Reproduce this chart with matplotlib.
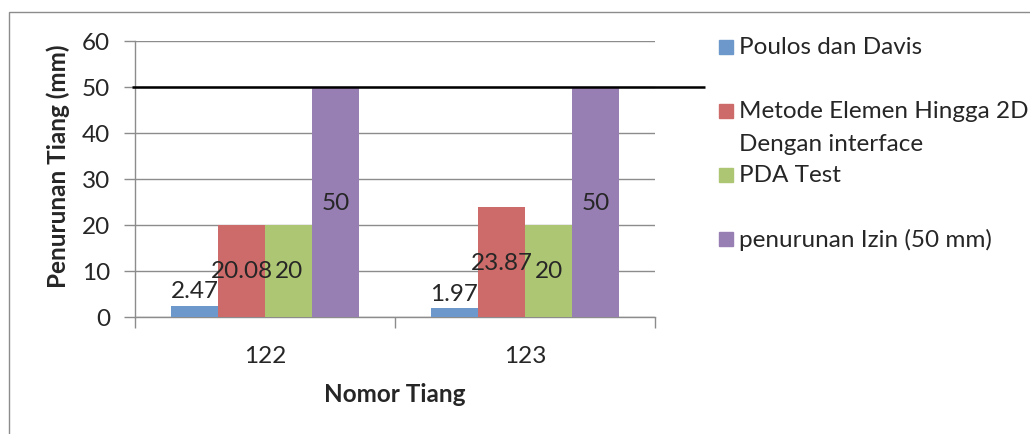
import matplotlib.pyplot as plt
import matplotlib.transforms as mtransforms
from matplotlib.patches import Rectangle
import numpy as np

plt.rcParams['font.family'] = ['Lato', 'DejaVu Sans']

tiang = ["122", "123"]
poulos = [2.47, 1.97]
fem_2d = [20.08, 23.87]
pda = [20, 20]
izin = [50, 50]
batas = 50

series = [
    ("Poulos dan Davis", poulos, "#6C98CB", "edge"),
    ("Metode Elemen Hingga 2D\nDengan interface", fem_2d, "#CC6B69", "center"),
    ("PDA Test", pda, "#ADC673", "center"),
    ("penurunan Izin (50 mm)", izin, "#977EB3", "center"),
]

FS = 17.5
W, H = 1030, 435
fig = plt.figure(figsize=(W / 100, H / 100), dpi=100)
ax = fig.add_axes([135 / W, 1 - 318 / H, 520 / W, 276 / H])

x = np.arange(len(tiang))
w = 0.181
for i, (name, vals, col, pos) in enumerate(series):
    bars = ax.bar(x + (i - 1.5) * w, vals, w, color=col, zorder=3)
    txts = ax.bar_label(bars, labels=[f"{v:g}" for v in vals], label_type=pos,
                        fontsize=FS, color="#262626", padding=3 if pos == "edge" else 0)
    for t in txts:
        t.set_zorder(6)

# garis batas penurunan izin
trans = mtransforms.blended_transform_factory(ax.transAxes, ax.transData)
ax.hlines(batas, -0.006, 1.096, transform=trans, color="black", lw=1.8,
          clip_on=False, zorder=4)

ax.set_xlim(-0.5, 1.5)
ax.set_ylim(0, 60)
ax.set_yticks(range(0, 61, 10))
ax.set_xticks(x)
ax.set_xticklabels(tiang)
ax.set_xticks([-0.5, 0.5, 1.5], minor=True)
ax.tick_params(axis="x", which="major", length=0, pad=20, labelsize=FS, colors="#262626")
ax.tick_params(axis="x", which="minor", length=8, width=1, color="#8C8C8C")
ax.tick_params(axis="y", length=8, width=1, color="#8C8C8C", pad=10,
               labelsize=FS, labelcolor="#262626")
ax.grid(axis="y", color="#8C8C8C", lw=1, zorder=0)
for s in ["top", "right"]:
    ax.spines[s].set_visible(False)
for s in ["left", "bottom"]:
    ax.spines[s].set_color("#8C8C8C")
    ax.spines[s].set_linewidth(1)

fig.text(58 / W, 1 - 166 / H, "Penurunan Tiang (mm)", rotation=90, ha="center",
         va="center", fontsize=FS, fontweight="bold", color="#262626")
fig.text(395 / W, 1 - 395 / H, "Nomor Tiang", ha="center", va="center",
         fontsize=FS, fontweight="bold", color="#262626")

# legenda manual
leg_y = [48, 112, 176, 240]
for (name, vals, col, pos), yy in zip(series, leg_y):
    fig.patches.append(Rectangle((719 / W, 1 - (yy + 7) / H), 14 / W, 14 / H,
                                 transform=fig.transFigure, color=col))
    for k, line in enumerate(name.split("\n")):
        fig.text(739 / W, 1 - (yy + 33 * k) / H, line, ha="left", va="center",
                 fontsize=FS, color="#262626")

# bingkai luar
fig.patches.append(Rectangle((9 / W, -0.1), 1.2, 1 - 13 / H + 0.1,
                             transform=fig.transFigure, fill=False,
                             edgecolor="#8C8C8C", lw=1))

fig.savefig("out.png", dpi=100)
